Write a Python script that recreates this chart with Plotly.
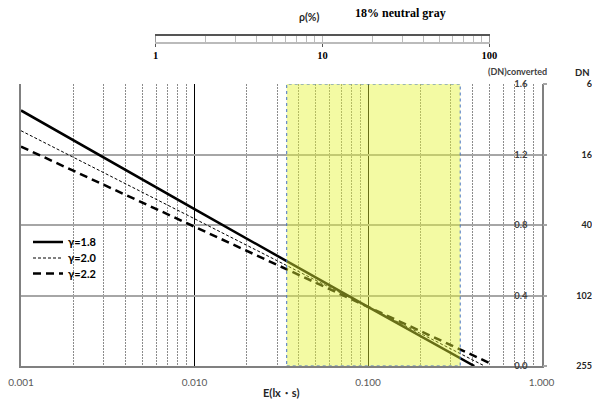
import plotly.graph_objects as go

# ---------------- data ----------------
series_names = ["γ=1.8", "γ=2.0", "γ=2.2"]
E_g18 = [0.001, 0.01, 0.1, 0.41]
D_g18 = [1.45, 0.89, 0.335, 0.0]
E_g20 = [0.001, 0.01, 0.1, 0.47]
D_g20 = [1.335, 0.835, 0.335, 0.0]
E_g22 = [0.001, 0.01, 0.1, 0.52]
D_g22 = [1.245, 0.79, 0.335, 0.01]

x_tickvals = [0.001, 0.01, 0.1, 1.0]
x_ticktext = ["0.001", "0.010", "0.100", "1.000"]
y_gridvals = [0.4, 0.8, 1.2]
dnconv_tickvals = [1.6, 1.2, 0.8, 0.4, 0.0]
dnconv_ticktext = ["1.6", "1.2", "0.8", "0.4", "0.0"]
dn_ticktext = ["6", "16", "40", "102", "255"]
rho_tickvals = [1, 10, 100]
rho_ticktext = ["1", "10", "100"]
highlight_E = [0.034, 0.34]
neutral_gray_E = 0.1

# minor log-grid positions
minor_main = [m * 10.0 ** d for d in (-3, -2, -1) for m in range(2, 10)]
minor_rho = [m * 10.0 ** d for d in (0, 1) for m in range(2, 10)]

SANS = "Lato, 'Open Sans', sans-serif"
SERIF = "'Liberation Serif', 'DejaVu Serif', serif"

fig = go.Figure()
fig.add_trace(go.Scatter(x=E_g18, y=D_g18, mode="lines", name=series_names[0],
                         legend="legend",
                         line=dict(color="black", width=2.5)))
fig.add_trace(go.Scatter(x=E_g20, y=D_g20, mode="lines", name=series_names[1],
                         legend="legend2",
                         line=dict(color="black", width=1, dash="3px,2px")))
fig.add_trace(go.Scatter(x=E_g22, y=D_g22, mode="lines", name=series_names[2],
                         legend="legend3",
                         line=dict(color="black", width=2.5, dash="8px,5px")))
# empty traces to bind auxiliary axes
for xa, ya in (("x", "y2"), ("x", "y3"), ("x", "y4"), ("x2", "y5"), ("x3", "y5")):
    fig.add_trace(go.Scatter(x=[None], y=[None], xaxis=xa, yaxis=ya,
                             showlegend=False, hoverinfo="skip"))

W, H = 592, 401
ML, MR, MT, MB = 21, 0, 30, 35
pw, ph = W - ML - MR, H - MT - MB


def px_x(p):
    return (p - ML) / pw


def px_y(p):
    return (H - MB - p) / ph


leg_font = dict(family=SANS, size=11, color="black", weight="bold")


def leg(yc):
    return dict(x=px_x(28), y=px_y(yc), xanchor="left", yanchor="middle",
                bgcolor="rgba(0,0,0,0)", borderwidth=0, font=leg_font)


fig.update_layout(
    width=W, height=H,
    margin=dict(l=ML, r=MR, t=MT, b=MB, autoexpand=False),
    paper_bgcolor="white", plot_bgcolor="white",
    font=dict(family=SANS, size=10, color="#404040"),
    showlegend=True,
    legend=leg(242), legend2=leg(258), legend3=leg(273.5),
    xaxis=dict(
        domain=[0, px_x(541.5)], type="log", range=[-3, 0], anchor="y",
        automargin=False,
        tickvals=x_tickvals, ticktext=x_ticktext, ticks="",
        showgrid=True, gridcolor="black", gridwidth=1,
        minor=dict(tickvals=minor_main, showgrid=True, gridcolor="#8c8c8c",
                   griddash="2px,1px", gridwidth=1, ticks=""),
        showline=True, linecolor="#808080", linewidth=1.5, zeroline=False,
        tickfont=dict(family=SANS, size=10, color="#595959"),
        ticklabelstandoff=6,
        title=dict(text="E(lx・s)", standoff=3,
                   font=dict(family=SANS, size=11, color="#262626", weight="bold")),
    ),
    yaxis=dict(
        domain=[0, px_y(84)], range=[0, 1.6], anchor="x", automargin=False,
        tickvals=y_gridvals, showticklabels=False, ticks="",
        showgrid=True, gridcolor="#a6a6a6", gridwidth=1.5,
        showline=True, mirror=True, linecolor="#808080", linewidth=1.5,
        zeroline=False,
    ),
    # right-hand tick marks of the converted-DN axis
    yaxis2=dict(
        overlaying="y", side="right", anchor="x", range=[0, 1.6], automargin=False,
        tickvals=dnconv_tickvals, showticklabels=False,
        ticks="outside", ticklen=4, tickcolor="#a6a6a6", tickwidth=1.5,
        showline=False, showgrid=False, zeroline=False,
    ),
    # converted-DN labels (sit just left of the right edge)
    yaxis3=dict(
        overlaying="y", side="left", anchor="free", position=px_x(527.5),
        range=[0, 1.6], automargin=False,
        tickvals=dnconv_tickvals, ticktext=dnconv_ticktext, ticks="",
        showline=False, showgrid=False, zeroline=False,
        tickfont=dict(family=SANS, size=9.5, color="#404040", weight="bold"),
    ),
    # DN column at the far right
    yaxis4=dict(
        overlaying="y", side="left", anchor="free", position=1.0, range=[0, 1.6],
        automargin=False,
        tickvals=dnconv_tickvals, ticktext=dn_ticktext, ticks="",
        showline=False, showgrid=False, zeroline=False,
        tickfont=dict(family=SANS, size=9, color="#262626", weight="bold"),
    ),
    xaxis2=dict(
        domain=[px_x(155.7), px_x(489.4)], type="log", range=[0, 2], anchor="y5",
        automargin=False,
        tickvals=rho_tickvals, ticktext=rho_ticktext,
        ticks="outside", ticklen=3, tickcolor="#555555",
        showgrid=True, gridcolor="#bbbbbb", gridwidth=1,
        minor=dict(tickvals=minor_rho, showgrid=True, gridcolor="#bbbbbb", ticks=""),
        showline=True, linecolor="#bbbbbb", linewidth=1.5, zeroline=False,
        tickfont=dict(family=SERIF, size=10.5, color="black", weight="bold"),
    ),
    xaxis3=dict(
        overlaying="x2", type="log", range=[0, 2], anchor="y5", side="top",
        automargin=False,
        showline=True, linecolor="#555555", linewidth=1.5,
        showticklabels=False, showgrid=False, ticks="", zeroline=False,
    ),
    yaxis5=dict(
        domain=[px_y(42), px_y(36)], range=[0, 1], anchor="x2", automargin=False,
        showline=True, mirror=True, linecolor="#999999", linewidth=1,
        showticklabels=False, showgrid=False, ticks="", zeroline=False,
    ),
)

# highlighted exposure band (semi-transparent, above the curves)
fig.add_shape(type="rect", xref="x", yref="y",
              x0=highlight_E[0], x1=highlight_E[1], y0=0, y1=1.6,
              fillcolor="rgba(228,245,50,0.45)", layer="above",
              line=dict(color="#4472c4", width=1, dash="dot"))

# arrow to 18% neutral gray
fig.add_annotation(x=neutral_gray_E, xref="x", y=px_y(80), yref="paper",
                   ax=0, ay=-57, text="", showarrow=True,
                   arrowhead=4, arrowsize=1, arrowwidth=1.3, arrowcolor="#c00000",
                   standoff=0)
fig.add_annotation(x=px_x(400), y=px_y(13), xref="paper", yref="paper",
                   xanchor="center", yanchor="middle",
                   text="<b>18% neutral gray</b>", showarrow=False,
                   font=dict(family=SERIF, size=12, color="black"))
fig.add_annotation(x=px_x(309), y=px_y(17), xref="paper", yref="paper",
                   xanchor="center", yanchor="middle",
                   text="<b>ρ(%)</b>", showarrow=False,
                   font=dict(family=SANS, size=10.5, color="#262626"))
fig.add_annotation(x=px_x(517), y=px_y(71.5), xref="paper", yref="paper",
                   xanchor="center", yanchor="middle",
                   text="<b>(DN)converted</b>", showarrow=False,
                   font=dict(family=SANS, size=9, color="#404040"))
fig.add_annotation(x=1.0, y=px_y(72), xref="paper", yref="paper",
                   xanchor="right", yanchor="middle",
                   text="<b>DN</b>", showarrow=False,
                   font=dict(family=SANS, size=9.5, color="#262626"))

fig.write_html("out.html", config={"displayModeBar": False},
               post_script="document.body.style.margin='0';document.body.style.overflow='hidden';")
